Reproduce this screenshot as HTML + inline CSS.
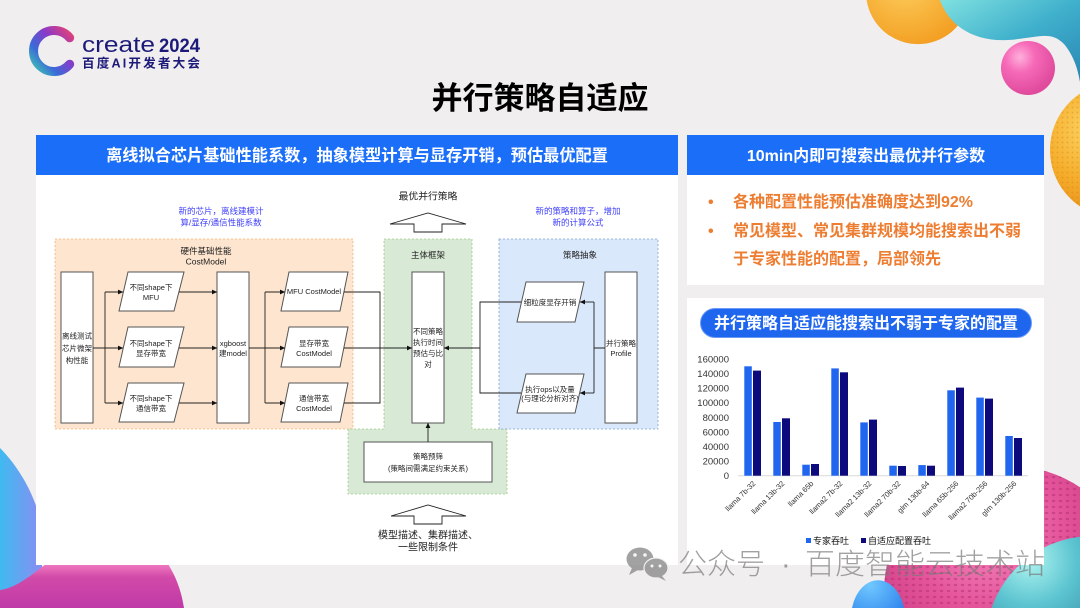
<!DOCTYPE html>
<html><head><meta charset="utf-8">
<style>
html,body{margin:0;padding:0;background:#f0eeef;width:1080px;height:608px;overflow:hidden;}
svg{display:block;}
text{font-family:"Liberation Sans","Noto Sans CJK SC",sans-serif;}
</style></head>
<body>
<svg width="1080" height="608" viewBox="0 0 1080 608" xmlns="http://www.w3.org/2000/svg">
<defs>
  <linearGradient id="cg" x1="1" y1="0" x2="0" y2="1">
    <stop offset="0" stop-color="#e0407a"/>
    <stop offset="0.35" stop-color="#8a3ac8"/>
    <stop offset="0.7" stop-color="#3a6ad8"/>
    <stop offset="1" stop-color="#40c8b0"/>
  </linearGradient>
  <radialGradient id="og" gradientUnits="userSpaceOnUse" cx="905" cy="-20" r="75">
    <stop offset="0" stop-color="#fdd060"/><stop offset="1" stop-color="#f29a1c"/>
  </radialGradient>
  <radialGradient id="og2" gradientUnits="userSpaceOnUse" cx="1095" cy="130" r="90">
    <stop offset="0" stop-color="#fcd766"/><stop offset="0.6" stop-color="#f5ac2a"/><stop offset="1" stop-color="#e8901a"/>
  </radialGradient>
  <linearGradient id="tg" x1="0" y1="0" x2="1" y2="1">
    <stop offset="0" stop-color="#7fe0e0"/><stop offset="0.5" stop-color="#3fb0cc"/><stop offset="1" stop-color="#2a86b4"/>
  </linearGradient>
  <radialGradient id="pg" cx="0.35" cy="0.3" r="0.7">
    <stop offset="0" stop-color="#ffb0dc"/><stop offset="0.4" stop-color="#f66ab8"/><stop offset="1" stop-color="#e04a9c"/>
  </radialGradient>
  <radialGradient id="pk" gradientUnits="userSpaceOnUse" cx="985" cy="530" r="150">
    <stop offset="0" stop-color="#f590c0"/><stop offset="0.5" stop-color="#e5559c"/><stop offset="1" stop-color="#c8387e"/>
  </radialGradient>
  <radialGradient id="ts" gradientUnits="userSpaceOnUse" cx="1030" cy="560" r="130">
    <stop offset="0" stop-color="#aef4f0"/><stop offset="0.35" stop-color="#5cc4d0"/><stop offset="1" stop-color="#1f6a8c"/>
  </radialGradient>
  <linearGradient id="bb" x1="0" y1="0" x2="1" y2="0">
    <stop offset="0" stop-color="#3fbaf0"/><stop offset="1" stop-color="#8a8cf2"/>
  </linearGradient>
  <linearGradient id="mg" x1="0" y1="0" x2="0" y2="1">
    <stop offset="0" stop-color="#f07ac0"/><stop offset="0.3" stop-color="#d24aa8"/><stop offset="1" stop-color="#c03aa8"/>
  </linearGradient>
  <radialGradient id="bl" gradientUnits="userSpaceOnUse" cx="870" cy="585" r="40">
    <stop offset="0" stop-color="#70c8ff"/><stop offset="1" stop-color="#2f86ee"/>
  </radialGradient>
  <pattern id="dots" width="7" height="6" patternUnits="userSpaceOnUse">
    <ellipse cx="3.5" cy="3" rx="1.8" ry="1.2" fill="#b02a6a" opacity="0.45"/>
  </pattern>
  <pattern id="odots" width="5" height="5" patternUnits="userSpaceOnUse">
    <circle cx="2.5" cy="2.5" r="1" fill="#d07a10" opacity="0.35"/>
  </pattern>
  <marker id="ar" markerWidth="6" markerHeight="6" refX="5" refY="3" orient="auto" markerUnits="userSpaceOnUse">
    <path d="M0,0.6 L5.2,3 L0,5.4 Z" fill="#111"/>
  </marker>
</defs>

<!-- decorations top right -->
<path d="M866.6,0 A52,52 0 0 0 969.4,0 Z" fill="url(#og)"/>
<path d="M940,0 C948,24 972,42 1008,40 C1038,38 1050,30 1064,44 C1074,56 1078,70 1080,82 L1080,0 Z" fill="url(#tg)"/>
<circle cx="1028" cy="68" r="27" fill="url(#pg)"/>
<path d="M1080,93.6 A68,68 0 0 0 1080,206.4 Z" fill="url(#og2)"/>
<path d="M1080,93.6 A68,68 0 0 0 1080,206.4 Z" fill="url(#odots)"/>

<!-- decorations bottom right -->
<path d="M885,608 A126,126 0 0 1 1080,487.2 L1080,608 Z" fill="url(#pk)"/>
<path d="M885,608 A126,126 0 0 1 1080,487.2 L1080,608 Z" fill="url(#dots)"/>
<path d="M991.6,608 A106,106 0 0 1 1080,536.7 L1080,608 Z" fill="url(#ts)"/>
<path d="M852,608 A27,38 0 0 1 904,608 Z" fill="url(#bl)"/>

<!-- decorations bottom left -->
<path d="M0,448 C20,468 38,500 42,530 L42,600 L0,600 Z" fill="url(#bb)"/>
<path d="M0,590 C16,588 30,576 46,564 L168,564 C178,580 182,595 184,608 L0,608 Z" fill="url(#mg)"/>

<!-- logo -->
<path d="M69.7,37.8 A20.5,20.5 0 1 0 69.7,64.2" fill="none" stroke="url(#cg)" stroke-width="9" stroke-linecap="round"/>
<text x="82" y="52" font-size="22" fill="#1b1a78" textLength="73" lengthAdjust="spacingAndGlyphs">create</text>
<text x="159" y="52" font-size="19.5" font-weight="700" fill="#1b1a78" textLength="41" lengthAdjust="spacingAndGlyphs">2024</text>
<text x="82" y="67.5" font-size="12.6" font-weight="700" fill="#1b1a78" textLength="118" lengthAdjust="spacing">百度AI开发者大会</text>

<!-- title -->
<text x="540" y="109" font-size="31" font-weight="700" fill="#000" text-anchor="middle">并行策略自适应</text>

<!-- panels -->
<rect x="36" y="135" width="642" height="430" fill="#fff"/>
<rect x="36" y="135" width="642" height="40" fill="#1b6ef8"/>
<text x="357" y="161" font-size="16.2" font-weight="700" fill="#fff" text-anchor="middle">离线拟合芯片基础性能系数，抽象模型计算与显存开销，预估最优配置</text>

<rect x="687" y="135" width="357" height="150" fill="#fff"/>
<rect x="687" y="135" width="357" height="40" fill="#1b6ef8"/>
<text x="866" y="161" font-size="16" font-weight="700" fill="#fff" text-anchor="middle">10min内即可搜索出最优并行参数</text>
<g font-size="16" font-weight="700" fill="#ed7d31">
  <text x="708" y="207">•</text>
  <text x="733" y="207">各种配置性能预估准确度达到92%</text>
  <text x="708" y="236">•</text>
  <text x="733" y="236">常见模型、常见集群规模均能搜索出不弱</text>
  <text x="733" y="264">于专家性能的配置，局部领先</text>
</g>

<rect x="687" y="298" width="357" height="267" fill="#fff"/>
<rect x="700.5" y="308.5" width="331" height="29" rx="14.5" fill="#1f66ee" stroke="#6a9af5" stroke-width="1"/>
<text x="866" y="328.5" font-size="16" font-weight="700" fill="#fff" text-anchor="middle">并行策略自适应能搜索出不弱于专家的配置</text>

<!-- chart -->
<g font-size="9.5" fill="#333" text-anchor="end">
  <text x="729" y="362.5">160000</text>
  <text x="729" y="377">140000</text>
  <text x="729" y="391.6">120000</text>
  <text x="729" y="406.2">100000</text>
  <text x="729" y="420.8">80000</text>
  <text x="729" y="435.4">60000</text>
  <text x="729" y="450">40000</text>
  <text x="729" y="464.6">20000</text>
  <text x="729" y="479.2">0</text>
</g>
<line x1="738" y1="475.7" x2="1028" y2="475.7" stroke="#d9d9d9" stroke-width="1"/>
<g fill="#2166ee">
  <rect x="744.3" y="366.3" width="7.5" height="109.4"/>
  <rect x="773.3" y="422.0" width="7.5" height="53.7"/>
  <rect x="802.3" y="464.7" width="7.5" height="11.0"/>
  <rect x="831.3" y="368.4" width="7.5" height="107.3"/>
  <rect x="860.3" y="422.4" width="7.5" height="53.3"/>
  <rect x="889.3" y="465.7" width="7.5" height="10.0"/>
  <rect x="918.3" y="465.1" width="7.5" height="10.6"/>
  <rect x="947.3" y="390.3" width="7.5" height="85.4"/>
  <rect x="976.3" y="397.6" width="7.5" height="78.1"/>
  <rect x="1005.3" y="436.0" width="7.5" height="39.7"/>
</g>
<g fill="#0c0a7c">
  <rect x="753" y="370.6" width="8" height="105.1"/>
  <rect x="782" y="418.3" width="8" height="57.4"/>
  <rect x="811" y="464.0" width="8" height="11.7"/>
  <rect x="840" y="372.3" width="8" height="103.4"/>
  <rect x="869" y="419.6" width="8" height="56.1"/>
  <rect x="898" y="466.0" width="8" height="9.7"/>
  <rect x="927" y="465.7" width="8" height="10.0"/>
  <rect x="956" y="387.6" width="8" height="88.1"/>
  <rect x="985" y="398.6" width="8" height="77.1"/>
  <rect x="1014" y="438.0" width="8" height="37.7"/>
</g>
<g font-size="7.5" fill="#333" text-anchor="end">
  <text transform="translate(756,484) rotate(-45)">llama 7b-32</text>
  <text transform="translate(785,484) rotate(-45)">llama 13b-32</text>
  <text transform="translate(814,484) rotate(-45)">llama 65b</text>
  <text transform="translate(843,484) rotate(-45)">llama2 7b-32</text>
  <text transform="translate(872,484) rotate(-45)">llama2 13b-32</text>
  <text transform="translate(901,484) rotate(-45)">llama2 70b-32</text>
  <text transform="translate(930,484) rotate(-45)">glm 130b-64</text>
  <text transform="translate(959,484) rotate(-45)">llama 65b-256</text>
  <text transform="translate(988,484) rotate(-45)">llama2 70b-256</text>
  <text transform="translate(1017,484) rotate(-45)">glm 130b-256</text>
</g>
<rect x="806" y="538" width="5" height="5" fill="#2166ee"/>
<text x="813" y="544" font-size="9" fill="#111">专家吞吐</text>
<rect x="861" y="538" width="5" height="5" fill="#0c0a7c"/>
<text x="868" y="544" font-size="9" fill="#111">自适应配置吞吐</text>

<!-- diagram areas -->
<rect x="55" y="239" width="298" height="190" fill="#fde5cf" stroke="#f2b572" stroke-width="0.8" stroke-dasharray="2,2"/>
<path d="M384,239 L472,239 L472,429 L507,429 L507,494 L348,494 L348,429 L384,429 Z" fill="#d8e9d5" stroke="#9ccb86" stroke-width="0.8" stroke-dasharray="2,2"/>
<rect x="499" y="239" width="159" height="190" fill="#dae8fc" stroke="#84a4d2" stroke-width="0.8" stroke-dasharray="2,2"/>

<!-- annotations -->
<g font-size="8.5" fill="#3d3dfa" text-anchor="middle">
  <text x="221" y="214">新的芯片，离线建模计</text>
  <text x="221" y="225.5">算/显存/通信性能系数</text>
  <text x="578" y="214">新的策略和算子，增加</text>
  <text x="578" y="225.5">新的计算公式</text>
</g>
<g font-size="8.5" fill="#222" text-anchor="middle">
  <text x="206" y="254">硬件基础性能</text>
  <text x="206" y="264.5">CostModel</text>
  <text x="428" y="258">主体框架</text>
  <text x="580" y="258">策略抽象</text>
</g>
<text x="428" y="199.5" font-size="9.8" fill="#222" text-anchor="middle">最优并行策略</text>
<g font-size="10" fill="#222" text-anchor="middle">
  <text x="428" y="538.5">模型描述、集群描述、</text>
  <text x="428" y="550.5">一些限制条件</text>
</g>

<!-- block arrows -->
<path d="M414,232 L414,224 L390,224 L428,213 L466,224 L442,224 L442,232 Z" fill="#fff" stroke="#222" stroke-width="0.9"/>
<path d="M414,524 L414,516 L391,516 L428,505 L466,516 L442,516 L442,524 Z" fill="#fff" stroke="#222" stroke-width="0.9"/>

<!-- boxes -->
<g fill="#fff" stroke="#555" stroke-width="1">
  <rect x="61" y="272" width="32" height="151"/>
  <rect x="217" y="272" width="32" height="151"/>
  <rect x="412" y="272" width="32" height="151"/>
  <rect x="605" y="272" width="32" height="151"/>
  <rect x="364" y="442" width="128" height="40"/>
  <polygon points="128,272 184,272 174,311 119,311"/>
  <polygon points="128,327 184,327 174,367 119,367"/>
  <polygon points="128,383 184,383 174,422 119,422"/>
  <polygon points="289,272 348,272 340,311 281,311"/>
  <polygon points="289,327 348,327 340,367 281,367"/>
  <polygon points="289,383 348,383 340,422 281,422"/>
  <polygon points="526,282 584,282 575,322 517,322"/>
  <polygon points="526,374 584,374 575,413 517,413"/>
</g>

<!-- connectors -->
<g fill="none" stroke="#222" stroke-width="0.9">
  <path d="M93,348 L105,348 M105,292 L105,403"/>
  <path d="M105,292 L123,292" marker-end="url(#ar)"/>
  <path d="M105,348 L123,348" marker-end="url(#ar)"/>
  <path d="M105,403 L123,403" marker-end="url(#ar)"/>
  <path d="M179,292 L217,292" marker-end="url(#ar)"/>
  <path d="M179,348 L217,348" marker-end="url(#ar)"/>
  <path d="M179,403 L217,403" marker-end="url(#ar)"/>
  <path d="M249,348 L265,348 M265,292 L265,403"/>
  <path d="M265,292 L285,292" marker-end="url(#ar)"/>
  <path d="M265,348 L285,348" marker-end="url(#ar)"/>
  <path d="M265,403 L285,403" marker-end="url(#ar)"/>
  <path d="M344,292 L380,292 L380,403 L344,403"/>
  <path d="M344,348 L412,348" marker-end="url(#ar)"/>
  <path d="M521,302 L480,302 L480,393 L521,393"/>
  <path d="M480,348 L444,348" marker-end="url(#ar)"/>
  <path d="M605,348 L594,348 M594,302 L594,393"/>
  <path d="M594,302 L580,302" marker-end="url(#ar)"/>
  <path d="M594,393 L580,393" marker-end="url(#ar)"/>
  <path d="M428,442 L428,423" marker-end="url(#ar)"/>
</g>

<!-- box text -->
<g font-size="7.5" fill="#222" text-anchor="middle">
  <text x="77" y="338.5">离线测试</text>
  <text x="77" y="351">芯片微架</text>
  <text x="77" y="363">构性能</text>
  <text x="151" y="290">不同shape下</text>
  <text x="151" y="300">MFU</text>
  <text x="151" y="346">不同shape下</text>
  <text x="151" y="356">显存带宽</text>
  <text x="151" y="401">不同shape下</text>
  <text x="151" y="411">通信带宽</text>
  <text x="233" y="346">xgboost</text>
  <text x="233" y="356">建model</text>
  <text x="314" y="294">MFU CostModel</text>
  <text x="314" y="346">显存带宽</text>
  <text x="314" y="356">CostModel</text>
  <text x="314" y="401">通信带宽</text>
  <text x="314" y="411">CostModel</text>
  <text x="428" y="334">不同策略</text>
  <text x="428" y="345">执行时间</text>
  <text x="428" y="356">预估与比</text>
  <text x="428" y="367">对</text>
  <text x="550" y="305">细粒度显存开销</text>
  <text x="550" y="392">执行ops以及量</text>
  <text x="550" y="401">(与理论分析对齐)</text>
  <text x="621" y="346">并行策略</text>
  <text x="621" y="356">Profile</text>
  <text x="428" y="459">策略预筛</text>
  <text x="428" y="471">(策略间需满足约束关系)</text>
</g>

<!-- watermark -->
<g fill="#8c8c8c" opacity="0.8">
  <ellipse cx="640" cy="559" rx="13.5" ry="11.5"/>
  <path d="M632,568 L629,575 L638,570 Z"/>
  <ellipse cx="656" cy="568" rx="12" ry="10" stroke="#f0eeef" stroke-width="1.2"/>
  <path d="M662,576 L666,581 L658,577 Z"/>
</g>
<g fill="#fff" opacity="0.9">
  <circle cx="635" cy="555" r="1.8"/><circle cx="645" cy="555" r="1.8"/>
  <circle cx="652" cy="566" r="1.5"/><circle cx="660" cy="566" r="1.5"/>
</g>
<g fill="#7a7a7a" opacity="0.7" font-size="29" font-weight="300">
  <text x="678" y="574" textLength="87" lengthAdjust="spacingAndGlyphs">公众号</text>
  <text x="781" y="574">·</text>
  <text x="805" y="574" textLength="240" lengthAdjust="spacingAndGlyphs">百度智能云技术站</text>
</g>
</svg>
</body></html>
